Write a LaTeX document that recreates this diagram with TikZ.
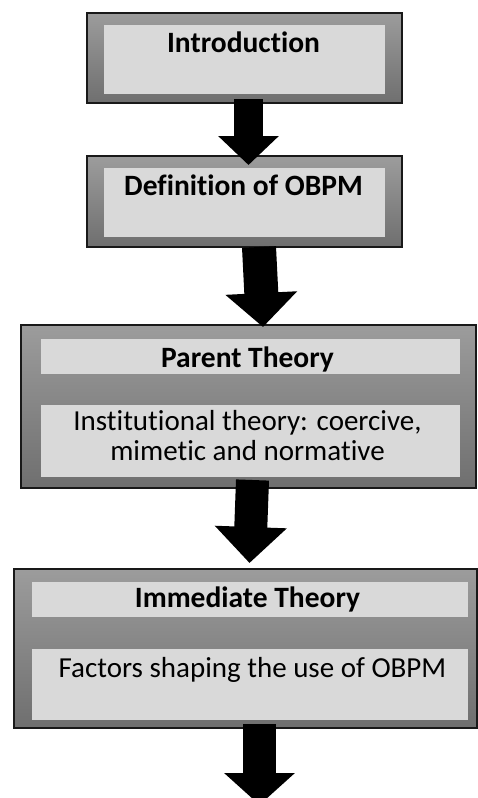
\documentclass[tikz,border=0pt]{standalone}
\usepackage{fontspec}
\setmainfont{Carlito}[Ligatures=NoCommon]
\usetikzlibrary{arrows.meta}
\definecolor{frametop}{HTML}{9C9C9C}
\definecolor{framebot}{HTML}{6F6F6F}
\definecolor{panel}{HTML}{D9D9D9}
\begin{document}
\begin{tikzpicture}[x=1pt,y=-1pt,
  frame/.style={draw=black!90, line width=1.8pt, top color=frametop, bottom color=framebot,
    inner sep=0pt, outer sep=0pt},
  pane/.style={fill=panel, inner sep=0pt, outer sep=0pt},
  head/.style={font=\fontsize{29.5}{34}\selectfont\bfseries, anchor=base, inner sep=0pt},
  body/.style={font=\fontsize{29}{34}\selectfont, anchor=base, inner sep=0pt, align=center},
  blockarrow/.style n args={3}{draw=black, line width=#1, -{Triangle[width=#2,length=#3]}}]
\useasboundingbox (0,0) rectangle (477,798);

% Introduction
\node[frame, minimum width=315pt, minimum height=90pt] (b1) at (244.5,58) {};
\node[pane, minimum width=281pt, minimum height=69pt] (p1) at (244.5,59.5) {};
\node[head] (t1) at (243.5,52.7) {Introduction};

% Definition
\node[frame, minimum width=315pt, minimum height=91pt] (b2) at (244.5,201.5) {};
\node[pane, minimum width=281pt, minimum height=69pt] (p2) at (244.5,202.5) {};
\node[head] (t2) at (243.5,195) {Definition of OBPM};

% Parent theory
\node[frame, minimum width=455pt, minimum height=163pt] (b3) at (248.5,406.5) {};
\node[pane, minimum width=419pt, minimum height=35pt] (p3a) at (250.5,356.5) {};
\node[pane, minimum width=419pt, minimum height=72pt] (p3b) at (250.5,441) {};
\node[head] (t3) at (247.5,367) {Parent Theory};
\node[body] (t3a) at (247.5,430) {Institutional theory: coercive,};
\node[body] (t3b) at (247.5,460) {mimetic and normative};

% Immediate theory
\node[frame, minimum width=463pt, minimum height=159pt] (b4) at (245.5,648.5) {};
\node[pane, minimum width=436pt, minimum height=35pt] (p4a) at (250,599.5) {};
\node[pane, minimum width=436pt, minimum height=71pt] (p4b) at (250,684.5) {};
\node[head] (t4) at (247.5,607) {Immediate Theory};
\node[body] (t4a) at (252.5,677) {Factors shaping the use of OBPM};

\coordinate (end) at (259.5,805);

% block arrows between the stages
\draw[blockarrow={29pt}{59pt}{29pt}] ([xshift=4pt,yshift=4pt]b1.south) -- ([xshift=4pt,yshift=-9pt]b2.north);
\draw[blockarrow={34pt}{70pt}{34pt}] ([xshift=14.5pt]b2.south) -- ([xshift=14.5pt,yshift=-2pt]b3.north);
\draw[blockarrow={33pt}{70pt}{36pt}] ([xshift=4pt,yshift=8pt]b3.south) -- ([xshift=4pt,yshift=6pt]b4.north);
\draw[blockarrow={33pt}{69pt}{32pt}] ([xshift=14pt,yshift=4pt]b4.south) -- (end);
\end{tikzpicture}
\end{document}
